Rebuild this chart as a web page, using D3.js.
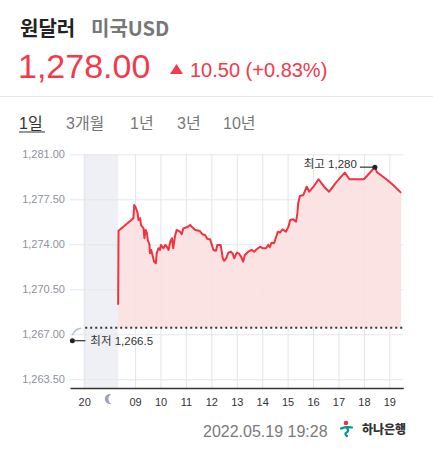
<!DOCTYPE html>
<meta charset="utf-8">
<style>
    body { margin: 0; background: #fff; }
    svg text { font-family: "Liberation Sans", "Noto Sans CJK KR", sans-serif; }
    .kr { font-family: "Noto Sans CJK KR", sans-serif; }
    .yAxis text { fill: #8c929c; font-size: 11px; }
    .yAxis .tick line { stroke: #e4e7ec; }
    .yAxis path { stroke-width: 0; }
    .xGrid .tick line { stroke: #e2e5eb; }
    .xGrid path { stroke-width: 0; }
    .xAxis text { fill: #333; font-size: 11px; }
    .xAxis path { stroke: #333; stroke-width: 1.5px; }
    .mark text { fill: #333; font-size: 11.5px; }
</style>
<body>
<svg width="433" height="450"></svg>
</body>
<script src="https://d3js.org/d3.v7.min.js"></script>
<script>

    // data
    var prevClose = 1267.5;
    var lastValue = 1278.00, change = 10.50, changePct = 0.83;

    var times = [
        "08:20","08:21","08:56","08:58",
        "09:02","09:06","09:08","09:12","09:14","09:20","09:22","09:25","09:28","09:30","09:34","09:35","09:38","09:41","09:45","09:49","09:51","09:55","09:59",
        "10:01","10:04","10:07","10:11","10:15","10:19","10:23","10:27","10:30","10:34","10:38","10:46","10:50","10:54",
        "11:02","11:10","11:15","11:22","11:33","11:39","11:45","11:51","11:57",
        "12:05","12:11","12:14","12:22","12:27","12:30","12:35","12:40","12:46","12:50","12:54",
        "13:00","13:06","13:10","13:15","13:19","13:27","13:35","13:41","13:47","13:55",
        "14:01","14:09","14:14","14:18","14:22","14:28","14:33","14:37","14:42","14:48","14:56",
        "15:02","15:06","15:13","15:20","15:23","15:25","15:29","15:37","15:45","15:51",
        "16:01","16:13","16:26","16:38","16:56",
        "17:15","17:26","18:00","18:26","18:31","18:53","19:09","19:28"];
    var values = [
        1269.3,1275.05,1276.02,1277.06,
        1276.82,1276.41,1275.89,1276.02,1275.5,1275.24,1274.47,1275.11,1274.86,1274.33,1273.95,1273.3,1273.56,1273.17,1272.65,1272.52,1273.3,1273.69,1273.56,
        1273.95,1273.81,1273.69,1273.95,1273.81,1273.56,1274.2,1274.47,1273.69,1274.59,1275.11,1274.98,1274.78,1275.24,
        1275.32,1275.5,1275.32,1275.11,1275.03,1274.78,1274.72,1274.41,1274.4,
        1273.56,1273.5,1273.95,1273.95,1272.91,1272.72,1272.91,1273.35,1273.42,1273.3,1272.91,
        1273.35,1273.25,1273.04,1272.65,1273.17,1273.42,1273.56,1273.42,1273.61,1273.81,
        1273.69,1273.69,1273.95,1273.77,1274.12,1274.08,1274.59,1274.98,1274.9,1275.17,1274.98,
        1275.37,1275.89,1275.94,1275.76,1276.41,1277.19,1277.76,1277.83,1278.48,1278.09,
        1278.48,1279.06,1278.48,1278.09,1278.87,
        1279.57,1279.06,1279.06,1280.0,1279.6,1279.06,1278.61,1278.0];

    // previous evening (ends at 20:00)
    var prevTimes = ["19:32","19:36","19:43","19:53"];
    var prevValues = [1266.94,1267.17,1267.37,1267.46];

    var lowValue = 1266.5, lowTime = "19:32";
    var highValue = 1280.0, highTime = "18:26";

    var yTicks = [1263.5, 1267, 1270.5, 1274, 1277.5, 1281];
    var xTickTimes = ["20:00p","09:00","10:00","11:00","12:00","13:00","14:00","15:00","16:00","17:00","18:00","19:00"];
    var xTickLabels = ["20","09","10","11","12","13","14","15","16","17","18","19"];
    var tabs = ["1일","3개월","1년","3년","10년"];

    // "HH:MM" -> hours; suffix p = previous day (evening squeezed before the open)
    function pos(t) {
        var prev = t.slice(-1) === "p";
        var hm = t.replace("p", "").split(":").map(Number);
        return hm[0] + hm[1] / 60 - (prev ? 13 : 0);
    }

    var series = times.map(function (t, i) { return {t: pos(t), v: values[i]}; });
    var prevSeries = prevTimes.map(function (t, i) { return {t: pos(t + "p"), v: prevValues[i]}; });

    var svg = d3.select("svg");
    var red = "#f23a4b";

    // header
    svg.append("text").attr("class", "kr").attr("x", 20).attr("y", 36)
            .style("font-size", "20px").style("font-weight", "bold").attr("fill", "#222").text("원달러");
    svg.append("text").attr("class", "kr").attr("x", 91).attr("y", 36)
            .style("font-size", "20px").style("font-weight", "bold").attr("fill", "#777").text("미국USD");
    svg.append("text").attr("x", 18).attr("y", 78)
            .style("font-size", "34px").attr("fill", red).text(d3.format(",.2f")(lastValue));
    svg.append("path").attr("d", "M170,74L176.5,64L183,74Z").attr("fill", red);
    svg.append("text").attr("x", 190).attr("y", 77)
            .style("font-size", "20px").attr("fill", red)
            .text(d3.format(".2f")(change) + " (+" + d3.format(".2f")(changePct) + "%)");
    svg.append("line").attr("x1", 0).attr("x2", 433).attr("y1", 96.5).attr("y2", 96.5)
            .attr("stroke", "#e6e6e6");

    var tabX = [19, 66, 130, 177, 223];
    svg.selectAll(".tab").data(tabs).enter().append("text")
            .attr("class", "tab")
            .attr("x", function (d, i) { return tabX[i]; })
            .attr("y", 129)
            .style("font-size", "16px")
            .attr("fill", function (d, i) { return i === 0 ? "#333" : "#777"; })
            .text(function (d) { return d; });
    svg.append("line").attr("x1", 19).attr("x2", 45).attr("y1", 132).attr("y2", 132)
            .attr("stroke", "#333");

    // scales
    var plotTop = 154.3, plotBottom = 388, plotLeft = 70, plotRight = 403.3;
    var x = d3.scaleLinear().domain([6.44, 19.55]).range([plotLeft, plotRight]);
    var y = d3.scaleLinear().domain([1262.82, 1281]).range([plotBottom, plotTop]);

    // night band
    svg.append("rect")
            .attr("x", x(pos("20:00p")) - 0.7)
            .attr("y", plotTop)
            .attr("width", x(pos(times[0])) - x(pos("20:00p")) + 0.7)
            .attr("height", plotBottom - plotTop)
            .attr("fill", "#eef0f6");

    // grids
    svg.append("g").attr("class", "yAxis")
            .attr("transform", "translate(" + plotLeft + ",0)")
            .call(d3.axisLeft(y).tickValues(yTicks).tickSize(-(plotRight - plotLeft)).tickPadding(5)
                    .tickFormat(d3.format(",.2f")));
    svg.append("g").attr("class", "xGrid")
            .attr("transform", "translate(0," + plotBottom + ")")
            .call(d3.axisBottom(x).tickValues(xTickTimes.map(pos)).tickSize(-(plotBottom - plotTop)).tickFormat(""));

    // area above previous close
    svg.append("path")
            .datum(series)
            .attr("fill", "#fbe0e0")
            .attr("fill-opacity", 0.9)
            .attr("d", d3.area().x(function (d) { return x(d.t); })
                    .y0(y(prevClose)).y1(function (d) { return y(d.v); }));

    // previous close dotted line
    svg.append("line")
            .attr("x1", x(pos("20:00p")) + 1).attr("x2", plotRight)
            .attr("y1", y(prevClose)).attr("y2", y(prevClose))
            .attr("stroke", "#333").attr("stroke-width", 2).attr("stroke-dasharray", "2,3");

    // previous evening line
    svg.append("path")
            .datum(prevSeries)
            .attr("fill", "none").attr("stroke", "#b7bed6").attr("stroke-width", 1.5)
            .attr("d", d3.line().curve(d3.curveMonotoneX)
                    .x(function (d) { return x(d.t); }).y(function (d) { return y(d.v); }));

    // price line
    svg.append("path")
            .datum(series)
            .attr("fill", "none").attr("stroke", "#ef3340").attr("stroke-width", 2)
            .attr("stroke-linejoin", "round")
            .attr("d", d3.line().x(function (d) { return x(d.t); }).y(function (d) { return y(d.v); }));

    // x axis
    var xAxisG = svg.append("g").attr("class", "xAxis")
            .attr("transform", "translate(0," + plotBottom + ")")
            .call(d3.axisBottom(x).tickValues(xTickTimes.map(pos)).tickSize(0).tickPadding(10)
                    .tickFormat(function (d, i) { return xTickLabels[i]; }));
    xAxisG.selectAll(".tick text").filter(function (d, i) { return i === 0; }).attr("fill", "#8a8f99");

    // moon (crescent opening right)
    var mx = x(8.0), my = plotBottom + 11;
    svg.append("path")
            .attr("d", "M" + (mx + 1.5) + "," + (my - 4.8) + "A5,5 0 1 0 " + (mx + 1.5) + "," + (my + 4.8)
                    + "A5.5,5.5 0 0 1 " + (mx + 1.5) + "," + (my - 4.8) + "Z")
            .attr("fill", "#9aa3c2");

    // low / high markers
    var low = svg.append("g").attr("class", "mark")
            .attr("transform", "translate(" + x(pos(lowTime + "p")) + "," + y(lowValue) + ")");
    low.append("line").attr("x2", 13).attr("stroke", "#333").attr("stroke-width", 1.2);
    low.append("circle").attr("r", 2.5).attr("fill", "#222");
    low.append("text").attr("x", 18).attr("dy", "0.35em").text("최저 " + d3.format(",")(lowValue));

    var high = svg.append("g").attr("class", "mark")
            .attr("transform", "translate(" + x(pos(highTime)) + "," + y(highValue) + ")");
    high.append("line").attr("x2", -15).attr("stroke", "#333").attr("stroke-width", 1.2);
    high.append("circle").attr("r", 2.5).attr("fill", "#222");
    high.append("text").attr("x", -18).attr("dy", "0.1em").style("text-anchor", "end")
            .text("최고 " + d3.format(",")(highValue));

    // footer
    svg.append("text").attr("x", 203).attr("y", 437)
            .style("font-size", "16px").attr("fill", "#7a7a7a").text("2022.05.19 19:28");
    var logo = svg.append("g").attr("transform", "translate(341,420)");
    logo.append("circle").attr("cx", 5).attr("cy", 3).attr("r", 2.3).attr("fill", "#e8334a");
    logo.append("path").attr("d", "M0,8.5Q5,6.5 11,7.5").attr("fill", "none")
            .attr("stroke", "#009490").attr("stroke-width", 2.2).attr("stroke-linecap", "round");
    logo.append("path").attr("d", "M6,8Q8.5,11 5.5,12.5Q3,14 6,16").attr("fill", "none")
            .attr("stroke", "#009490").attr("stroke-width", 2.2).attr("stroke-linecap", "round");
    logo.append("text").attr("class", "kr").attr("x", 21).attr("y", 14)
            .style("font-size", "12px").style("font-weight", "900").attr("fill", "#333").text("하나은행");

</script>
